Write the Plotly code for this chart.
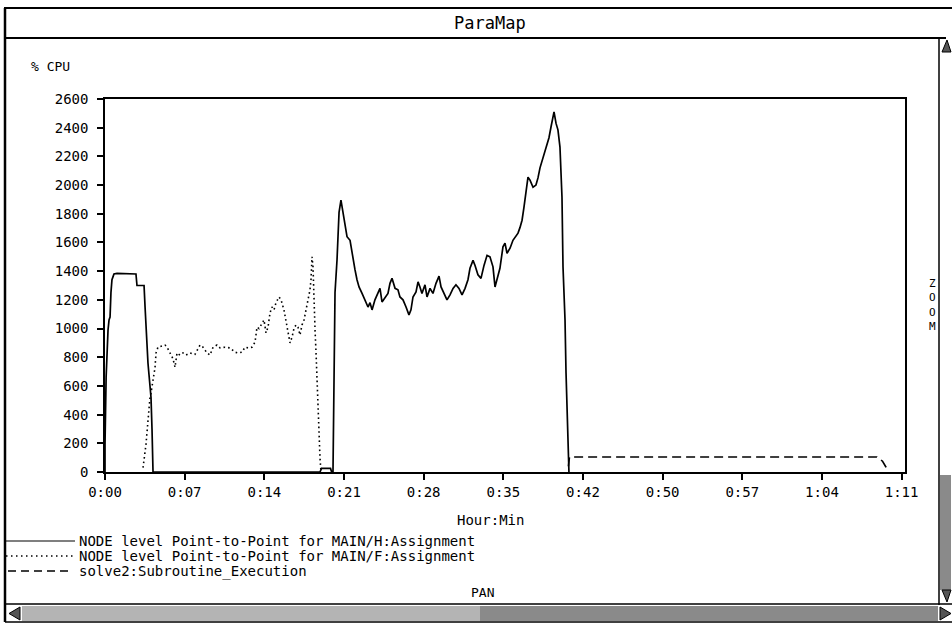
import plotly.graph_objects as go

# ---------------- data (time in minutes, value in % CPU) ----------------
H_t = [0, 0, 0.1, 0.18, 0.27, 0.36, 0.45, 0.53, 0.62, 0.71,
       0.8, 1.07, 1.25, 2.76, 2.85, 3.48, 3.57, 3.65, 3.74, 3.83,
       3.92, 4.01, 4.1, 4.19, 4.23, 4.28, 19.16, 19.3, 20.1, 20.2,
       20.32, 20.35, 20.42, 20.5, 20.68, 20.86, 21.03, 21.21, 21.39, 21.57,
       21.84, 22.01, 22.28, 22.46, 22.64, 22.91, 23.17, 23.44, 23.62, 23.8,
       24.06, 24.33, 24.51, 24.69, 24.96, 25.22, 25.4, 25.58, 25.85, 26.11,
       26.29, 26.56, 26.83, 27.09, 27.27, 27.45, 27.72, 27.9, 28.07, 28.25,
       28.52, 28.7, 28.97, 29.23, 29.5, 29.77, 29.95, 30.21, 30.48, 30.75,
       31.02, 31.28, 31.55, 31.82, 32.09, 32.35, 32.53, 32.8, 32.98, 33.24,
       33.51, 33.78, 34.05, 34.31, 34.58, 34.76, 34.94, 35.2, 35.47, 35.65,
       35.83, 36.1, 36.36, 36.63, 36.81, 36.99, 37.17, 37.34, 37.52, 37.7,
       37.88, 38.15, 38.41, 38.59, 38.77, 39.04, 39.3, 39.57, 39.75, 39.93,
       40.02, 40.2, 40.37, 40.55, 40.73, 40.82, 41.0, 41.09, 41.18, 41.27,
       41.35]
H_v = [0, 190, 660, 870, 990, 1060, 1080, 1250, 1340, 1360,
       1380, 1385, 1385, 1380, 1300, 1300, 1150, 1000, 850, 760,
       680, 600, 520, 300, 100, 0, 0, 25, 25, 0,
       0, 310, 745, 1250, 1480, 1810, 1895, 1805, 1705, 1640,
       1615, 1525, 1410, 1340, 1290, 1245, 1200, 1150, 1180, 1130,
       1200, 1245, 1280, 1185, 1220, 1245, 1315, 1350, 1280, 1270,
       1220, 1200, 1150, 1095, 1130, 1220, 1255, 1325, 1290, 1245,
       1305, 1220, 1280, 1245, 1315, 1365, 1290, 1245, 1200, 1235,
       1280, 1305, 1280, 1235, 1280, 1340, 1420, 1475, 1440, 1375,
       1350, 1440, 1510, 1500, 1430, 1290, 1340, 1420, 1570, 1595,
       1525, 1560, 1615, 1650, 1665, 1705, 1755, 1845, 1965, 2055,
       2035, 1985, 2000, 2050, 2120, 2190, 2260, 2330, 2405, 2475,
       2510, 2430, 2385, 2265, 1915, 1430, 1060, 690, 410, 175,
       0]

F_t = [3.39, 3.57, 3.65, 4.01, 4.1, 4.28, 4.46, 4.55, 4.72,
       5.35, 5.53, 5.79, 6.06, 6.24, 6.42, 6.68, 6.95, 7.22, 7.58,
       8.02, 8.47, 8.73, 9.09, 9.36, 9.63, 9.98, 10.25, 10.7, 11.14,
       11.59, 11.85, 12.21, 12.48, 12.75, 13.1, 13.37, 13.55, 13.73, 13.99,
       14.17, 14.35, 14.53, 14.71, 14.88, 15.06, 15.24, 15.51, 15.69, 15.95,
       16.13, 16.31, 16.49, 16.67, 16.84, 17.02, 17.2, 17.38, 17.56, 17.74,
       17.91, 18.09, 18.27, 18.36, 18.45, 18.54, 18.63, 18.72, 18.81, 18.89,
       18.98, 19.07, 19.16, 19.25]
F_v = [30, 130, 190, 520, 550, 640, 730, 830, 870,
       885, 870, 830, 790, 730, 830, 815, 830, 815, 830,
       820, 885, 870, 830, 815, 870, 885, 865, 870, 865,
       835, 830, 835, 870, 865, 870, 905, 1010, 1000, 1040,
       1060, 970, 1010, 1110, 1150, 1130, 1180, 1220, 1200, 1130,
       1060, 970, 900, 940, 1000, 1025, 1010, 955, 1025, 1060,
       1130, 1200, 1270, 1340, 1500, 1430, 1150, 990, 830, 690,
       520, 290, 100, 0]

S_t = [41.3, 41.4, 68.8, 69.3, 69.6, 69.8]
S_v = [40, 105, 105, 75, 35, 5]

x_tick_vals = [0, 7.1, 14.2, 21.3, 28.4, 35.5, 42.6, 49.7, 56.8, 63.9, 71.0]
x_tick_text = ["0:00", "0:07", "0:14", "0:21", "0:28", "0:35", "0:42",
               "0:50", "0:57", "1:04", "1:11"]
y_tick_vals = list(range(0, 2601, 200))

series_names = ["NODE level Point-to-Point for MAIN/H:Assignment",
                "NODE level Point-to-Point for MAIN/F:Assignment",
                "solve2:Subroutine_Execution"]

# ---------------- layout geometry (pixels) ----------------
W, Hh = 952, 624
L, R, T, B = 105, 905, 99, 472


def px(x):
    return (x - L) / (R - L)


def py(y):
    return (B - y) / (B - T)


FONT = "DejaVu Sans Mono"

fig = go.Figure()
fig.add_trace(go.Scatter(x=H_t, y=H_v, mode="lines", name=series_names[0],
                         line=dict(color="black", width=1.7), showlegend=False))
fig.add_trace(go.Scatter(x=F_t, y=F_v, mode="lines", name=series_names[1],
                         line=dict(color="black", width=1.6, dash="1.6px,3px"),
                         showlegend=False))
fig.add_trace(go.Scatter(x=S_t, y=S_v, mode="lines", name=series_names[2],
                         line=dict(color="black", width=1.6, dash="9px,5px"),
                         showlegend=False))

shapes = []
annos = []


def hline(x0, x1, y, w=1.5, color="black", dash=None):
    d = dict(type="line", xref="paper", yref="paper", x0=px(x0), x1=px(x1),
             y0=py(y), y1=py(y), line=dict(color=color, width=w))
    if dash:
        d["line"]["dash"] = dash
    shapes.append(d)


def vline(x, y0, y1, w=1.5, color="black"):
    shapes.append(dict(type="line", xref="paper", yref="paper", x0=px(x), x1=px(x),
                       y0=py(y0), y1=py(y1), line=dict(color=color, width=w)))


def rect(x0, y0, x1, y1, fill, lw=1, lc="black"):
    shapes.append(dict(type="rect", xref="paper", yref="paper", x0=px(x0), x1=px(x1),
                       y0=py(y0), y1=py(y1), fillcolor=fill,
                       line=dict(color=lc, width=lw), layer="below"))


def tri(pts, fill="#555"):
    path = "M " + " L ".join("%f %f" % (px(a), py(b)) for a, b in pts) + " Z"
    shapes.append(dict(type="path", xref="paper", yref="paper", path=path,
                       fillcolor=fill, line=dict(color="black", width=1)))


def text(x, y, s, size=14, xanchor="left"):
    annos.append(dict(xref="paper", yref="paper", x=px(x), y=py(y), text=s,
                      showarrow=False, xanchor=xanchor, yanchor="middle",
                      font=dict(family=FONT, size=size, color="black")))


# window frame
hline(4, 952, 8, w=2)
hline(4, 946, 38, w=2)
vline(5, 8, 622, w=2.5)
vline(939, 38, 605, w=1.5)
hline(5, 952, 604, w=1.5)
hline(5, 952, 622, w=1.5)

# right scrollbar
rect(940, 475, 951, 590, "#8a8a8a", lw=0)
tri([(942, 52), (947, 40), (951, 52)])
tri([(942, 590), (947, 602), (951, 590)])

# bottom scrollbar
rect(22, 606, 480, 621, "#b4b4b4", lw=0)
rect(480, 606, 938, 621, "#8a8a8a", lw=0)
tri([(20, 607), (9, 613.5), (20, 620)])
tri([(940, 607), (951, 613.5), (940, 620)])

# legend samples
hline(6, 75, 541, w=1.2)
hline(6, 75, 556, w=1.4, dash="1.5px,3.5px")
hline(8, 73, 571, w=1.4, dash="8px,5px")
for i, s in enumerate(series_names):
    text(77, 541 + 15 * i, s, size=14)

# texts
text(490, 23, "ParaMap", size=17, xanchor="center")
text(29, 67, "% CPU", size=13)
text(490, 520, "Hour:Min", size=14, xanchor="center")
text(482, 592, "PAN", size=13, xanchor="center")
text(933, 305, "Z<br>O<br>O<br>M", size=11, xanchor="center")

fig.update_layout(
    width=W, height=Hh,
    margin=dict(l=L, r=W - R, t=T, b=Hh - B),
    paper_bgcolor="white", plot_bgcolor="white",
    showlegend=False,
    shapes=shapes, annotations=annos,
    font=dict(family=FONT, size=14, color="black"),
    xaxis=dict(range=[0, (R - L) / 11.22], tickmode="array", tickvals=x_tick_vals,
               ticktext=x_tick_text, ticks="outside", ticklen=6, tickwidth=1.5,
               tickcolor="black", showline=True, linecolor="black", linewidth=1.5,
               mirror=True, showgrid=False, zeroline=False,
               tickfont=dict(family=FONT, size=14, color="black")),
    yaxis=dict(range=[0, 2600], tickmode="array", tickvals=y_tick_vals,
               ticks="outside", ticklen=6, tickwidth=1.5, tickcolor="black",
               showline=True, linecolor="black", linewidth=1.5, mirror=True,
               showgrid=False, zeroline=False, ticklabelstandoff=6,
               tickfont=dict(family=FONT, size=14, color="black")),
)

fig.write_html("out.html", config={"displayModeBar": False},
               post_script="document.body.style.margin='0';document.body.style.overflow='hidden';")
